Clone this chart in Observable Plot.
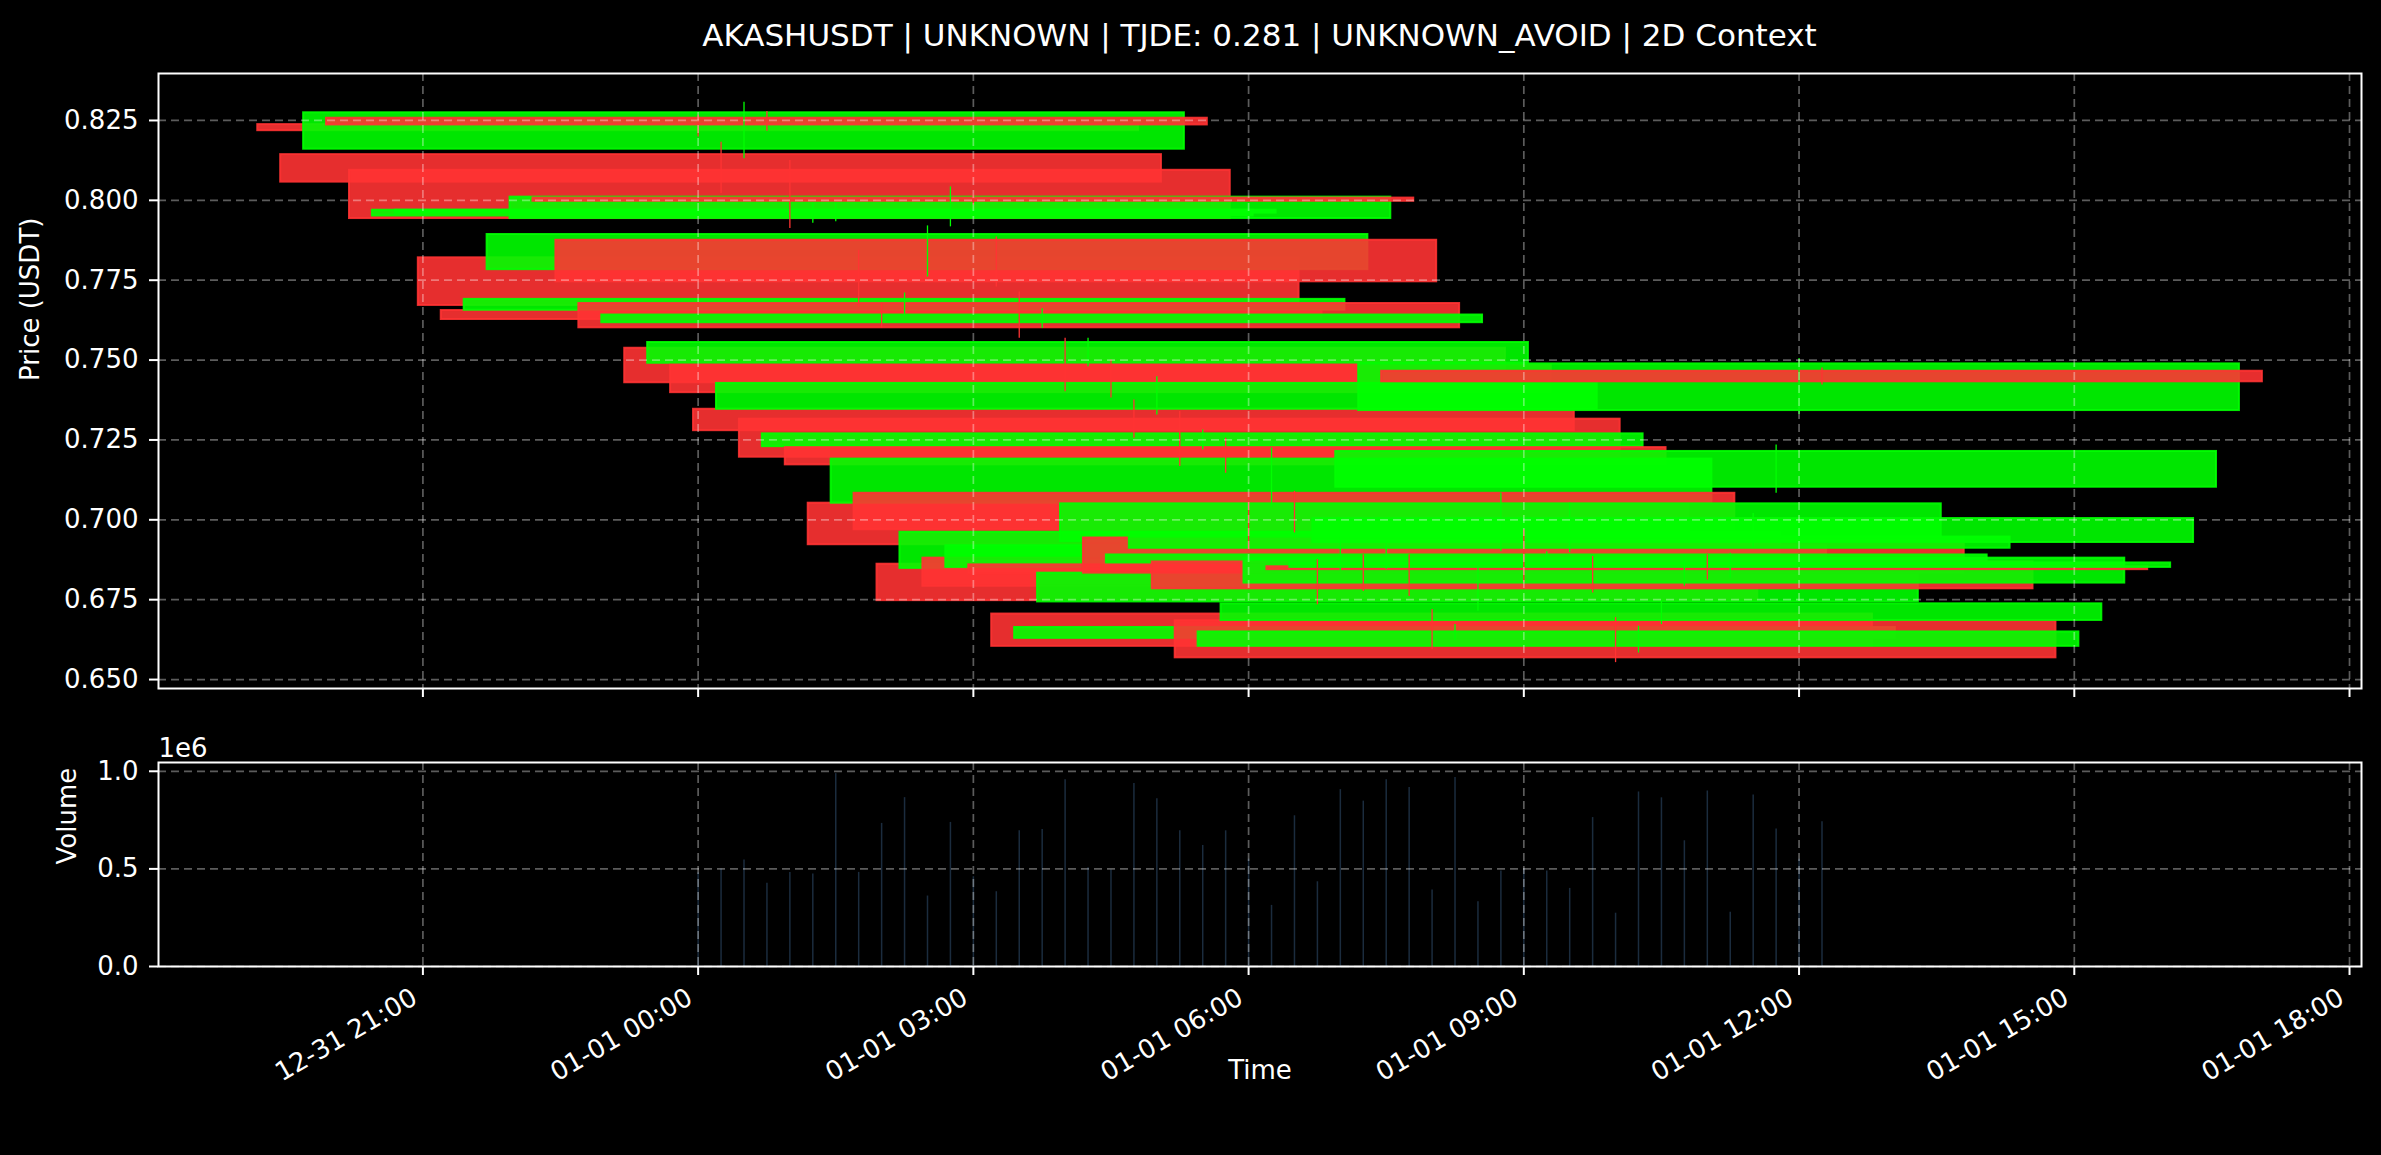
<!DOCTYPE html>
<html><head><meta charset="utf-8">
<script src="https://cdn.jsdelivr.net/npm/d3@7"></script>
<script src="https://cdn.jsdelivr.net/npm/@observablehq/plot@0.6"></script>
<style>
html,body{margin:0;padding:0;background:#000;}
#fig{position:relative;width:2381px;height:1155px;background:#000;overflow:hidden;font-family:"DejaVu Sans",sans-serif;color:#fff;}
#title{position:absolute;left:158px;width:2203px;top:15px;text-align:center;font-size:31px;line-height:40px;}
#price{position:absolute;left:0;top:0;}
#vol{position:absolute;left:0;top:700px;}
</style></head><body>
<div id="fig"><div id="price"></div><div id="vol"></div><div id="title">AKASHUSDT | UNKNOWN | TJDE: 0.281 | UNKNOWN_AVOID | 2D Context</div></div>
<script>
// 15-minute candles on 2025-01-01 (UTC)
const times = ["00:00","00:15","00:30","00:45","01:00","01:15","01:30","01:45","02:00","02:15",
  "02:30","02:45","03:00","03:15","03:30","03:45","04:00","04:15","04:30","04:45",
  "05:00","05:15","05:30","05:45","06:00","06:15","06:30","06:45","07:00","07:15",
  "07:30","07:45","08:00","08:15","08:30","08:45","09:00","09:15","09:30","09:45",
  "10:00","10:15","10:30","10:45","11:00","11:15","11:30","11:45","12:00","12:15"];
const opens = [0.8237,0.8143,0.8160,0.8257,0.8094,0.7951,0.7960,0.7820,0.7655,0.7656,
  0.7783,0.7943,0.8007,0.7875,0.7677,0.7617,0.7537,0.7490,0.7484,0.7346,
  0.7346,0.7315,0.7229,0.7226,0.7052,0.7052,0.7083,0.6861,0.6848,0.6880,
  0.6851,0.6859,0.6705,0.6629,0.6743,0.6932,0.6943,0.6865,0.6911,0.6868,
  0.6684,0.6604,0.6685,0.6802,0.6853,0.6851,0.6929,0.7102,0.7342,0.7465];
const closes = [0.8218,0.8057,0.8274,0.8236,0.7943,0.7969,0.7969,0.7671,0.7627,0.7690,
  0.7893,0.8010,0.7997,0.7745,0.7601,0.7641,0.7429,0.7555,0.7398,0.7279,
  0.7427,0.7196,0.7269,0.7172,0.6922,0.7190,0.6969,0.6747,0.6961,0.6792,
  0.6919,0.6830,0.6604,0.6663,0.6833,0.7050,0.6833,0.6890,0.6946,0.6784,
  0.6568,0.6649,0.6737,0.6880,0.6844,0.6865,0.7004,0.7214,0.7488,0.7432];
const highs = [0.8266,0.8182,0.8307,0.8278,0.8125,0.7991,0.7991,0.7844,0.7678,0.7710,
  0.7920,0.8042,0.8015,0.7885,0.7713,0.7661,0.7568,0.7568,0.7500,0.7375,
  0.7448,0.7339,0.7281,0.7255,0.7085,0.7225,0.7089,0.6875,0.6975,0.6891,
  0.6925,0.6891,0.6719,0.6672,0.6854,0.7084,0.6969,0.6900,0.7053,0.6885,
  0.6694,0.6667,0.6745,0.6891,0.6891,0.6895,0.7020,0.7234,0.7505,0.7475];
const lows = [0.8198,0.8021,0.8130,0.8216,0.7912,0.7928,0.7933,0.7665,0.7600,0.7641,
  0.7760,0.7917,0.7985,0.7729,0.7568,0.7599,0.7401,0.7479,0.7381,0.7255,
  0.7328,0.7167,0.7219,0.7146,0.6905,0.7040,0.6959,0.6734,0.6840,0.6776,
  0.6845,0.6760,0.6594,0.6622,0.6714,0.6900,0.6803,0.6855,0.6897,0.6771,
  0.6553,0.6583,0.6672,0.6792,0.6812,0.6817,0.6915,0.7083,0.7330,0.7422];
const volumes = [0.48,0.50,0.545,0.426,0.482,0.474,0.988,0.482,0.733,0.865,
  0.361,0.738,0.46,0.383,0.695,0.702,0.957,0.506,0.494,0.937,
  0.859,0.695,0.62,0.695,0.55,0.313,0.772,0.434,0.906,0.847,
  0.957,0.917,0.392,0.968,0.332,0.489,0.50,0.489,0.40,0.763,
  0.273,0.894,0.864,0.644,0.899,0.278,0.879,0.704,0.55,0.741].map(v => v * 1e6);
const xTickLabels = ["2024-12-31T21:00Z","2025-01-01T00:00Z","2025-01-01T03:00Z","2025-01-01T06:00Z",
  "2025-01-01T09:00Z","2025-01-01T12:00Z","2025-01-01T15:00Z","2025-01-01T18:00Z"];
const priceTicks = [0.650,0.675,0.700,0.725,0.750,0.775,0.800,0.825];
const volumeTicks = [0, 0.5e6, 1e6];

const GREEN = "#00ff00", RED = "#ff3333";
const HALF = 0.2 * 864e5; // body half width: 0.2 day
const candles = times.map((t, i) => {
  const d = new Date(`2025-01-01T${t}:00Z`);
  return {t: d, x1: new Date(+d - HALF), x2: new Date(+d + HALF),
    open: opens[i], close: closes[i], high: highs[i], low: lows[i], volume: volumes[i],
    color: closes[i] >= opens[i] ? GREEN : RED};
});
const xTicks = xTickLabels.map(s => new Date(s));
const fmtTime = d3.utcFormat("%m-%d %H:%M");
const xDomain = [new Date("2024-12-31T18:07:05Z"), new Date("2025-01-01T18:07:50Z")];
const W = 2381;
const style = {background: "#000", color: "#fff", fontFamily: "DejaVu Sans", fontSize: "26px", overflow: "visible"};
const gridStyle = {stroke: "#fff", strokeOpacity: 0.36, strokeDasharray: "8,5", strokeWidth: 1.7};

const price = Plot.plot({
  width: W, height: 700,
  marginLeft: 158, marginRight: 20, marginTop: 73, marginBottom: 12,
  style,
  x: {type: "utc", domain: xDomain},
  y: {domain: [0.6472, 0.8397]},
  color: {type: "identity"},
  marks: [
    Plot.rect(candles, {x1: "x1", x2: "x2", y1: "open", y2: "close", fill: "color", stroke: "color",
      fillOpacity: 0.9, strokeOpacity: 0.9, strokeWidth: 2}),
    Plot.ruleX(candles, {x: "t", y1: "low", y2: "high", stroke: "color", strokeWidth: 1.3}),
    Plot.gridX({ticks: xTicks, ...gridStyle}),
    Plot.gridY({ticks: priceTicks, ...gridStyle}),
    Plot.frame({stroke: "#fff", strokeWidth: 2}),
    Plot.axisY({ticks: priceTicks, tickFormat: d3.format(".3f"), tickSize: 9, tickPadding: 11, strokeWidth: 2, label: null}),
    Plot.axisX({ticks: xTicks, tickFormat: () => "", tickSize: 9, strokeWidth: 2, label: null}),
    Plot.text(["Price (USDT)"], {frameAnchor: "left", dx: -128, rotate: -90, fill: "#fff"})
  ]
});
document.getElementById("price").append(price);

const vol = Plot.plot({
  width: W, height: 455,
  marginLeft: 158, marginRight: 20, marginTop: 62, marginBottom: 189,
  style,
  x: {type: "utc", domain: xDomain},
  y: {domain: [0, 1.045e6]},
  marks: [
    Plot.ruleX(candles, {x: "t", y1: 0, y2: "volume", stroke: "#1b2c3e", strokeWidth: 1.5}),
    Plot.gridX({ticks: xTicks, ...gridStyle}),
    Plot.gridY({ticks: volumeTicks, ...gridStyle}),
    Plot.frame({stroke: "#fff", strokeWidth: 2}),
    Plot.axisY({ticks: volumeTicks, tickFormat: v => (v / 1e6).toFixed(1), tickSize: 9, tickPadding: 11, strokeWidth: 2, label: null}),
    Plot.axisX({ticks: xTicks, tickFormat: () => "", tickSize: 9, strokeWidth: 2, label: null}),
    Plot.text(xTicks, {x: d => d, text: d => fmtTime(d), frameAnchor: "bottom", dy: 20, dx: -13,
      rotate: -30, textAnchor: "end", lineAnchor: "top", fill: "#fff"}),
    Plot.text(["1e6"], {frameAnchor: "top-left", dy: -24, textAnchor: "start", fill: "#fff"}),
    Plot.text(["Volume"], {frameAnchor: "left", dx: -91, rotate: -90, fill: "#fff"}),
    Plot.text(["Time"], {frameAnchor: "bottom", dy: 112, fill: "#fff"})
  ]
});
document.getElementById("vol").append(vol);
</script>
</body></html>
